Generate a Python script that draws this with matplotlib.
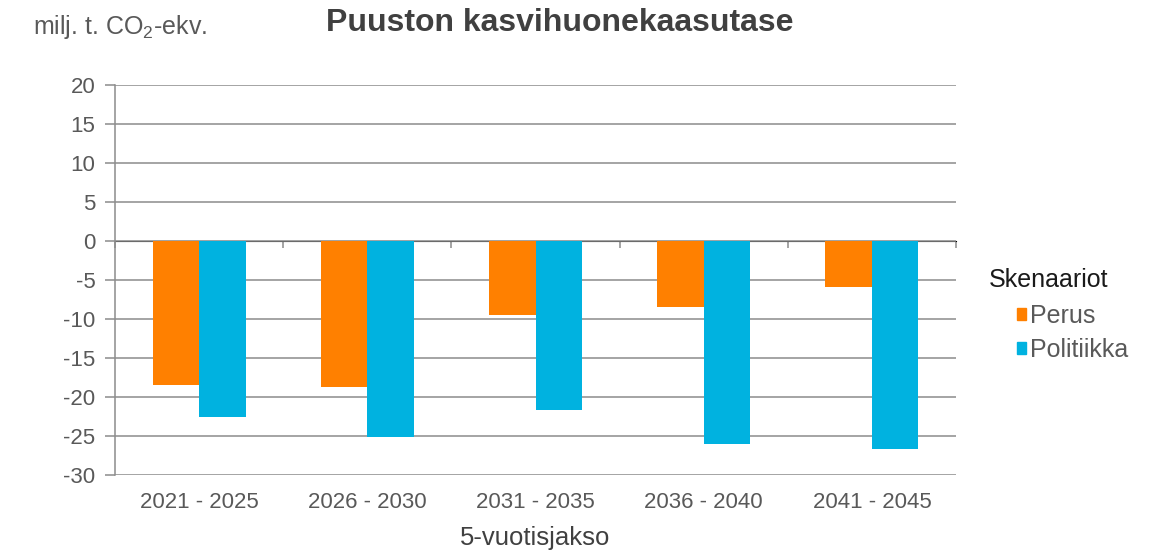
import numpy as np
import matplotlib
matplotlib.use('Agg')
import matplotlib.pyplot as plt
from matplotlib.patches import Patch

plt.rcParams['font.family'] = ['Liberation Sans', 'DejaVu Sans']

# data
periods = ['2021 - 2025', '2026 - 2030', '2031 - 2035', '2036 - 2040', '2041 - 2045']
perus = [-18.5, -18.7, -9.5, -8.5, -5.9]
politiikka = [-22.6, -25.1, -21.7, -26.0, -26.7]
series_names = ['Perus', 'Politiikka']
yticks = np.arange(-30, 21, 5)

col_perus = '#FF8000'
col_pol = '#00B2E0'
col_grid = '#8c8c8c'
col_text = '#595959'

fig = plt.figure(figsize=(11.5, 5.54), dpi=100)
ax = fig.add_axes([115/1150, 1 - 475/554, (956-115)/1150, (475-85)/554])

x = np.arange(len(periods))
w = 0.276
ax.bar(x - w/2, perus, width=w, color=col_perus, zorder=3)
ax.bar(x + w/2, politiikka, width=w, color=col_pol, zorder=3)

ax.set_xlim(-0.5, len(periods) - 0.5)
ax.set_ylim(-30, 20)
ax.set_yticks(yticks)
ax.set_yticklabels([str(v) for v in yticks])
ax.yaxis.grid(True, color=col_grid, linewidth=1.1, zorder=0)
ax.set_axisbelow(True)

for s in ['top', 'right', 'bottom']:
    ax.spines[s].set_visible(False)
ax.spines['left'].set_color(col_grid)
ax.spines['left'].set_linewidth(1.1)
ax.tick_params(axis='y', length=7, width=1.1, color=col_grid, pad=7,
               labelsize=16, labelcolor=col_text)

ax.set_xticks(x)
ax.set_xticklabels(periods)
ax.tick_params(axis='x', length=0, pad=12.5, labelsize=16, labelcolor=col_text)

# horizontal axis line at zero with category divider ticks
sec = ax.secondary_xaxis(0.6)
sec.set_xticks(np.arange(len(periods) + 1) - 0.5)
sec.set_xticklabels([])
sec.tick_params(axis='x', length=5, width=1.1, color=col_grid, direction='in')
sec.spines['bottom'].set_color(col_grid)
sec.spines['bottom'].set_linewidth(1.3)

fig.text(535/1150, 1 - 538/554, '5-vuotisjakso', fontsize=18.5, color='#404040',
         ha='center', va='center')
fig.text(326/1150, 1 - 23/554, 'Puuston kasvihuonekaasutase', fontsize=23,
         fontweight='bold', color='#404040', ha='left', va='center')
fig.text(33/1150, 1 - 27/554, r'milj. t. CO$_\mathregular{2}$-ekv.', fontsize=18,
         color=col_text, ha='left', va='center')

fig.text(989/1150, 1 - 280/554, 'Skenaariot', fontsize=18, color='#1a1a1a',
         ha='left', va='center')
handles = [Patch(color=col_perus), Patch(color=col_pol)]
leg = fig.legend(handles, series_names, loc='upper left',
                 bbox_to_anchor=(1007/1150, 1 - 294/554), frameon=False,
                 fontsize=18, labelcolor=col_text, handlelength=0.35,
                 handleheight=0.35, handletextpad=0.15, labelspacing=0.4,
                 borderaxespad=0)

fig.savefig('out.png', dpi=100)
